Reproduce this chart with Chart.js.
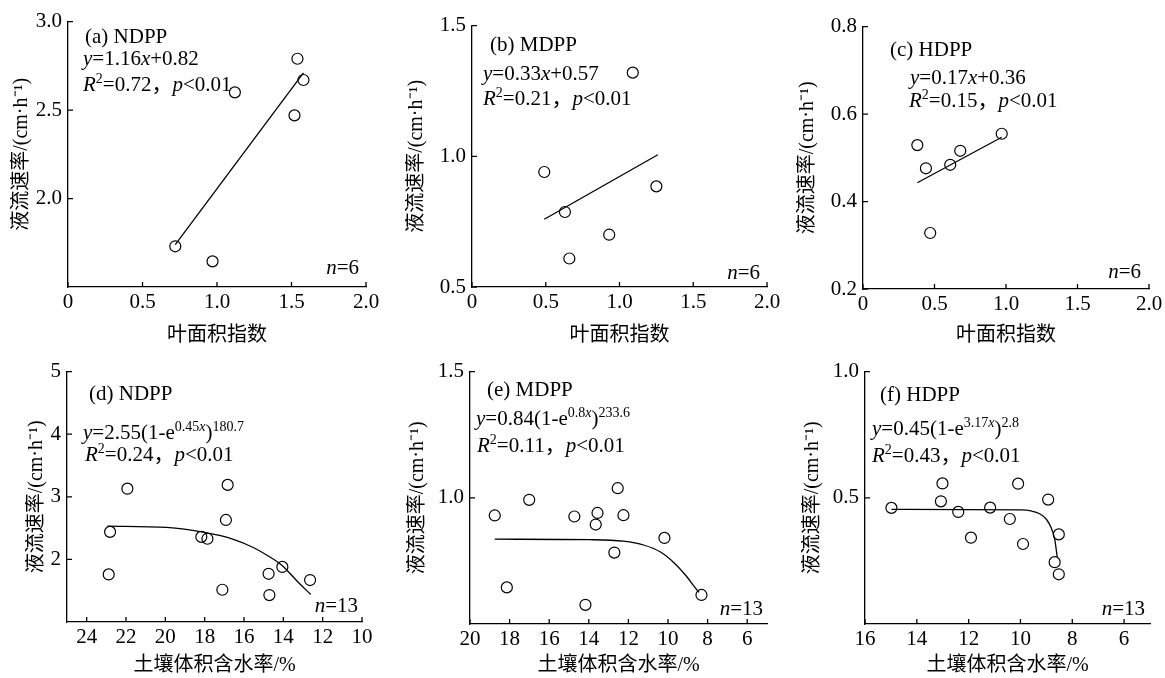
<!DOCTYPE html>
<html lang="zh">
<head>
<meta charset="utf-8">
<title>液流速率与叶面积指数、土壤体积含水率</title>
<script src="https://cdn.jsdelivr.net/npm/chart.js@4.4.1/dist/chart.umd.min.js"></script>
<style>
    html, body { margin: 0; padding: 0; background: #fff; overflow: hidden; }
    body { width: 1165px; height: 678px; position: relative; }
    canvas { position: absolute; }
</style>
</head>
<body>
<script>
// (a) NDPP - 叶面积指数
const laiA = [0.72, 0.97, 1.12, 1.52, 1.54, 1.58];
const sapA = [1.73, 1.645, 2.60, 2.47, 2.79, 2.67];
const fitXA = [0.72, 1.58];
const fitYA = [1.74, 2.71];

// (b) MDPP
const laiB = [0.49, 0.63, 0.66, 0.93, 1.09, 1.25];
const sapB = [0.94, 0.787, 0.609, 0.70, 1.32, 0.885];
const fitXB = [0.49, 1.26];
const fitYB = [0.759, 1.006];

// (c) HDPP
const laiC = [0.38, 0.44, 0.47, 0.61, 0.68, 0.97];
const sapC = [0.529, 0.476, 0.328, 0.484, 0.516, 0.555];
const fitXC = [0.38, 0.97];
const fitYC = [0.443, 0.547];

// (d) NDPP - 土壤体积含水率
const swcD = [22.81, 22.88, 21.93, 18.17, 17.86, 17.10, 16.92, 16.83, 14.75, 14.71, 14.05, 12.64];
const sapD = [2.44, 1.76, 3.13, 2.36, 2.33, 1.515, 2.63, 3.19, 1.77, 1.43, 1.88, 1.67];
const fitXD = [22.95, 19.93, 18.0, 16.54, 15.53, 14.85, 14.05, 13.32, 12.61];
const fitYD = [2.53, 2.51, 2.43, 2.32, 2.19, 2.07, 1.90, 1.66, 1.44];

// (e) MDPP
const swcE = [18.75, 18.14, 17.01, 14.73, 14.17, 13.65, 13.56, 12.71, 12.54, 12.25, 10.18, 8.31];
const sapE = [0.93, 0.645, 0.992, 0.926, 0.576, 0.894, 0.94, 0.783, 1.038, 0.931, 0.841, 0.615];
const fitXE = [18.75, 13.95, 12.25, 11.23, 10.38, 9.70, 9.11, 8.60, 8.43];
const fitYE = [0.836, 0.834, 0.828, 0.813, 0.785, 0.743, 0.693, 0.641, 0.625];

// (f) HDPP
const swcF = [14.98, 13.01, 13.07, 12.40, 11.91, 11.17, 10.41, 10.09, 9.90, 8.93, 8.52, 8.68, 8.52];
const sapF = [0.46, 0.557, 0.486, 0.444, 0.342, 0.461, 0.416, 0.556, 0.317, 0.493, 0.355, 0.245, 0.197];
const fitXF = [14.98, 9.97, 9.59, 9.26, 9.00, 8.81, 8.68, 8.58];
const fitYF = [0.454, 0.452, 0.448, 0.437, 0.415, 0.380, 0.337, 0.265];

// tick labels
const xTicksLai = ['0', '0.5', '1.0', '1.5', '2.0'];
const yTicksA = ['2.0', '2.5', '3.0'];
const yTicksB = ['0.5', '1.0', '1.5'];
const yTicksC = ['0.2', '0.4', '0.6', '0.8'];
const xTicksD = ['24', '22', '20', '18', '16', '14', '12', '10'];
const yTicksD = ['2', '3', '4', '5'];
const xTicksE = ['20', '18', '16', '14', '12', '10', '8', '6'];
const yTicksE = ['1.0', '1.5'];
const xTicksF = ['16', '14', '12', '10', '8', '6'];
const yTicksF = ['0.5', '1.0'];

const SERIF = '"Liberation Serif", "Times New Roman", "Noto Sans CJK SC", serif';
const TEXT_SIZE = 21;
const TICK_SIZE = 21;
const TITLE_SIZE = 20;
const SUP_SIZE = 14;
const SUP_RISE = 8;
const TITLE_LH = 24;
const PAD_TOP = 16;
const PAD_RIGHT = 22;
const TICK_LEN = 5;
const Y_TITLE = '液流速率/(cm·h⁻¹)';

const panels = [
    {
        xs: laiA, ys: sapA, fitX: fitXA, fitY: fitYA, curve: false,
        xMin: 0, xMax: 2, yMin: 1.5, yMax: 3, reverse: false,
        xTicks: xTicksLai, yTicks: yTicksA, xTitle: '叶面积指数',
        area: { left: 68, top: 19, right: 366, bottom: 287 }, yTitleX: 22, xTitleY: 336,
        notes: [
            { dx: 17, dy: 21, parts: [['(a) NDPP']] },
            { dx: 15, dy: 43, parts: [['y', 'i'], ['=1.16'], ['x', 'i'], ['+0.82']] },
            { dx: 15, dy: 69, parts: [['R', 'i'], ['2', 'sup'], ['=0.72，'], ['p', 'i'], ['<0.01']] }
        ],
        n: '6', nPos: [-7, -13]
    },
    {
        xs: laiB, ys: sapB, fitX: fitXB, fitY: fitYB, curve: false,
        xMin: 0, xMax: 2, yMin: 0.5, yMax: 1.5, reverse: false,
        xTicks: xTicksLai, yTicks: yTicksB, xTitle: '叶面积指数',
        area: { left: 472, top: 23, right: 767, bottom: 287 }, yTitleX: 417, xTitleY: 336,
        notes: [
            { dx: 18, dy: 25, parts: [['(b) MDPP']] },
            { dx: 11, dy: 54, parts: [['y', 'i'], ['=0.33'], ['x', 'i'], ['+0.57']] },
            { dx: 11, dy: 79, parts: [['R', 'i'], ['2', 'sup'], ['=0.21，'], ['p', 'i'], ['<0.01']] }
        ],
        n: '6', nPos: [-7, -8]
    },
    {
        xs: laiC, ys: sapC, fitX: fitXC, fitY: fitYC, curve: false,
        xMin: 0, xMax: 2, yMin: 0.2, yMax: 0.8, reverse: false,
        xTicks: xTicksLai, yTicks: yTicksC, xTitle: '叶面积指数',
        area: { left: 863, top: 24, right: 1149, bottom: 289 }, yTitleX: 808, xTitleY: 336,
        notes: [
            { dx: 27, dy: 29, parts: [['(c) HDPP']] },
            { dx: 47, dy: 57, parts: [['y', 'i'], ['=0.17'], ['x', 'i'], ['+0.36']] },
            { dx: 46, dy: 80, parts: [['R', 'i'], ['2', 'sup'], ['=0.15，'], ['p', 'i'], ['<0.01']] }
        ],
        n: '6', nPos: [-8, -11]
    },
    {
        xs: swcD, ys: sapD, fitX: fitXD, fitY: fitYD, curve: true,
        xMin: 10, xMax: 25, yMin: 1, yMax: 5, reverse: true,
        xTicks: xTicksD, yTicks: yTicksD, xTitle: '土壤体积含水率/%',
        area: { left: 67, top: 369, right: 362, bottom: 622 }, yTitleX: 37, xTitleY: 666,
        notes: [
            { dx: 22, dy: 28, parts: [['(d) NDPP']] },
            { dx: 16, dy: 67, parts: [['y', 'i'], ['=2.55(1-e'], ['0.45', 'sup'], ['x', 'sup i'], [')'], ['180.7', 'sup']] },
            { dx: 18, dy: 89, parts: [['R', 'i'], ['2', 'sup'], ['=0.24，'], ['p', 'i'], ['<0.01']] }
        ],
        n: '13', nPos: [-4, -10]
    },
    {
        xs: swcE, ys: sapE, fitX: fitXE, fitY: fitYE, curve: true,
        xMin: 5, xMax: 20, yMin: 0.5, yMax: 1.5, reverse: true,
        xTicks: xTicksE, yTicks: yTicksE, xTitle: '土壤体积含水率/%',
        area: { left: 470, top: 369, right: 767, bottom: 624 }, yTitleX: 418, xTitleY: 666,
        notes: [
            { dx: 17, dy: 24, parts: [['(e) MDPP']] },
            { dx: 6, dy: 53, parts: [['y', 'i'], ['=0.84(1-e'], ['0.8', 'sup'], ['x', 'sup i'], [')'], ['233.6', 'sup']] },
            { dx: 7, dy: 80, parts: [['R', 'i'], ['2', 'sup'], ['=0.11，'], ['p', 'i'], ['<0.01']] }
        ],
        n: '13', nPos: [-4, -9]
    },
    {
        xs: swcF, ys: sapF, fitX: fitXF, fitY: fitYF, curve: true,
        xMin: 5, xMax: 16, yMin: 0, yMax: 1, reverse: true,
        xTicks: xTicksF, yTicks: yTicksF, xTitle: '土壤体积含水率/%',
        area: { left: 865, top: 369, right: 1150, bottom: 624 }, yTitleX: 813, xTitleY: 666,
        notes: [
            { dx: 15, dy: 29, parts: [['(f) HDPP']] },
            { dx: 7, dy: 63, parts: [['y', 'i'], ['=0.45(1-e'], ['3.17', 'sup'], ['x', 'sup i'], [')'], ['2.8', 'sup']] },
            { dx: 7, dy: 90, parts: [['R', 'i'], ['2', 'sup'], ['=0.43，'], ['p', 'i'], ['<0.01']] }
        ],
        n: '13', nPos: [-5, -9]
    }
];

// draws a run of text pieces, each piece can be italic and/or superscript
function drawRich(ctx, x, y, parts, align) {
    const pieces = parts.map(([text, style = '']) => {
        const sup = style.includes('sup');
        const italic = style.split(' ').includes('i');
        const font = `${italic ? 'italic ' : ''}${sup ? SUP_SIZE : TEXT_SIZE}px ${SERIF}`;
        ctx.font = font;
        return { text, font, sup, w: ctx.measureText(text).width };
    });
    const total = pieces.reduce((s, pc) => s + pc.w, 0);
    let cx = align === 'right' ? x - total : x;
    pieces.forEach(pc => {
        ctx.font = pc.font;
        ctx.fillText(pc.text, cx, pc.sup ? y - SUP_RISE : y);
        cx += pc.w;
    });
}

// tick marks pointing into the plot
const innerTicks = {
    id: 'innerTicks',
    afterDraw(chart) {
        const { ctx, chartArea, scales } = chart;
        ctx.save();
        ctx.strokeStyle = '#000';
        ctx.lineWidth = 1.3;
        ctx.beginPath();
        scales.x.ticks.forEach(t => {
            const px = scales.x.getPixelForValue(t.value);
            ctx.moveTo(px, chartArea.bottom);
            ctx.lineTo(px, chartArea.bottom - TICK_LEN);
        });
        scales.y.ticks.forEach(t => {
            const py = scales.y.getPixelForValue(t.value);
            ctx.moveTo(chartArea.left, py);
            ctx.lineTo(chartArea.left + TICK_LEN, py);
        });
        ctx.stroke();
        ctx.restore();
    }
};

const panelText = {
    id: 'panelText',
    afterDraw(chart, args, opts) {
        const p = opts.panel;
        const { ctx, chartArea } = chart;
        ctx.save();
        ctx.fillStyle = '#000';
        ctx.textBaseline = 'alphabetic';
        ctx.textAlign = 'left';
        p.notes.forEach(note => {
            drawRich(ctx, chartArea.left + note.dx, chartArea.top + note.dy, note.parts, 'left');
        });
        drawRich(ctx, chartArea.right + p.nPos[0], chartArea.bottom + p.nPos[1], [['n', 'i'], ['=' + p.n]], 'right');
        ctx.restore();
    }
};

function buildPanel(p) {
    const left = p.yTitleX - TITLE_LH / 2;
    const top = p.area.top - PAD_TOP;
    const right = p.area.right + PAD_RIGHT;
    const bottom = p.xTitleY + TITLE_LH / 2;

    const canvas = document.createElement('canvas');
    canvas.width = right - left;
    canvas.height = bottom - top;
    canvas.style.left = left + 'px';
    canvas.style.top = top + 'px';
    document.body.appendChild(canvas);

    const tickFont = { family: SERIF, size: TICK_SIZE };
    const titleFont = { family: SERIF, size: TITLE_SIZE, lineHeight: TITLE_LH / TITLE_SIZE };

    new Chart(canvas, {
        type: 'scatter',
        data: {
            datasets: [
                {
                    data: p.xs.map((x, i) => ({ x, y: p.ys[i] })),
                    pointRadius: 5.5,
                    pointBackgroundColor: 'rgba(0,0,0,0)',
                    pointBorderColor: '#000',
                    pointBorderWidth: 1.2,
                    order: 1
                },
                {
                    data: p.fitX.map((x, i) => ({ x, y: p.fitY[i] })),
                    showLine: true,
                    borderColor: '#000',
                    borderWidth: 1.3,
                    pointRadius: 0,
                    cubicInterpolationMode: p.curve ? 'monotone' : 'default',
                    order: 2
                }
            ]
        },
        options: {
            responsive: false,
            animation: false,
            layout: { padding: { top: PAD_TOP, right: PAD_RIGHT, left: 0, bottom: 0 } },
            plugins: {
                legend: { display: false },
                tooltip: { enabled: false },
                panelText: { panel: p }
            },
            scales: {
                x: {
                    type: 'linear',
                    min: p.xMin,
                    max: p.xMax,
                    reverse: p.reverse,
                    afterBuildTicks: axis => { axis.ticks = p.xTicks.map(t => ({ value: Number(t) })); },
                    afterFit: axis => { axis.height = bottom - p.area.bottom; },
                    grid: { display: false, drawTicks: false },
                    border: { display: true, color: '#000', width: 1.3 },
                    ticks: {
                        callback: (v, i) => p.xTicks[i],
                        font: tickFont,
                        color: '#000',
                        padding: 3,
                        maxRotation: 0,
                        autoSkip: false
                    },
                    title: { display: true, text: p.xTitle, font: titleFont, color: '#000', padding: 0 }
                },
                y: {
                    type: 'linear',
                    min: p.yMin,
                    max: p.yMax,
                    afterBuildTicks: axis => { axis.ticks = p.yTicks.map(t => ({ value: Number(t) })); },
                    afterFit: axis => { axis.width = p.area.left - left; },
                    grid: { display: false, drawTicks: false },
                    border: { display: true, color: '#000', width: 1.3 },
                    ticks: {
                        callback: (v, i) => p.yTicks[i],
                        font: tickFont,
                        color: '#000',
                        padding: 6,
                        autoSkip: false
                    },
                    title: { display: true, text: Y_TITLE, font: titleFont, color: '#000', padding: 0 }
                }
            }
        },
        plugins: [innerTicks, panelText]
    });
}

panels.forEach(buildPanel);
</script>
</body>
</html>
